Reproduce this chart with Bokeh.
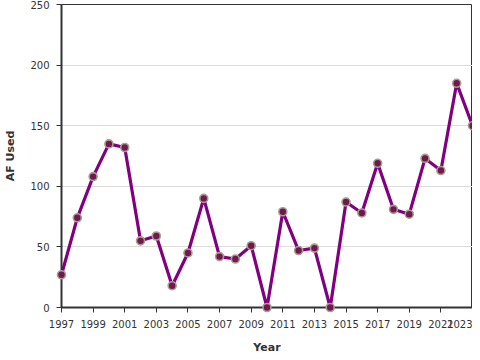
from bokeh.plotting import figure
from bokeh.models import ColumnDataSource, FixedTicker, Range1d
from bokeh.embed import file_html
from bokeh.resources import INLINE

years = list(range(1997, 2024))
af_used = [27, 74, 108, 135, 132, 55, 59, 18, 45, 90, 42, 40, 51, 0, 79, 47, 49, 0,
           87, 78, 119, 81, 77, 123, 113, 185, 150]
x_ticks = list(range(1997, 2024, 2))
y_ticks = [0, 50, 100, 150, 200, 250]

src = ColumnDataSource(dict(year=years, af=af_used))

p = figure(output_backend="svg", toolbar_location=None,
           frame_width=411, frame_height=303,
           min_border_left=61, min_border_right=0, min_border_top=4, min_border_bottom=45,
           x_range=Range1d(1997, 2023), y_range=Range1d(0, 250))

p.line("year", "af", source=src, line_color="#800080", line_width=3.2)
p.scatter("year", "af", source=src, size=8, fill_color="#6e1a50",
          line_color="#aa9d8c", line_width=1.6, level="overlay")

p.xaxis.ticker = FixedTicker(ticks=x_ticks)
p.yaxis.ticker = FixedTicker(ticks=y_ticks)
p.xaxis.axis_label = "Year"
p.yaxis.axis_label = "AF Used"

for ax in (p.xaxis, p.yaxis):
    ax.axis_label_text_font = "DejaVu Sans"
    ax.axis_label_text_font_style = "bold"
    ax.axis_label_text_font_size = "11px"
    ax.axis_label_text_color = "#333333"
    ax.major_label_text_font = "DejaVu Sans"
    ax.major_label_text_font_size = "10px"
    ax.major_label_text_color = "#333333"
    ax.axis_line_color = "#333333"
    ax.axis_line_width = 2
    ax.major_tick_line_color = "#333333"
    ax.major_tick_line_width = 1
    ax.major_tick_in = 0
    ax.major_tick_out = 5
    ax.minor_tick_line_color = None

p.xaxis.axis_label_standoff = 10
p.yaxis.axis_label_standoff = 10
p.xaxis.major_label_standoff = 7
p.yaxis.major_label_standoff = 7

p.xgrid.grid_line_color = None
p.ygrid.grid_line_color = "#dddddd"
p.ygrid.grid_line_width = 1

p.outline_line_color = "#333333"
p.outline_line_width = 1
p.background_fill_color = "white"
p.border_fill_color = "white"

open("out.html", "w").write(file_html(p, INLINE))
